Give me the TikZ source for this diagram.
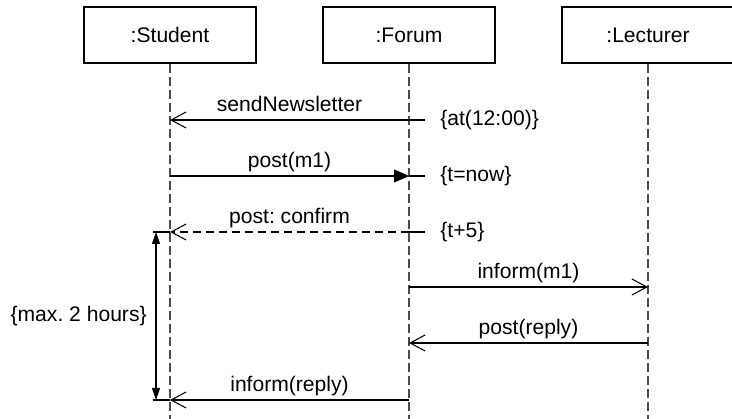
\documentclass[tikz,border=0pt]{standalone}
\usepackage{fontspec}
\setmainfont{Liberation Sans}
\usetikzlibrary{arrows.meta}
\frenchspacing

\tikzset{
  obj/.style={draw, line width=0.6pt, minimum width=3.44cm, minimum height=1.12cm, inner sep=0pt},
  lifeline/.style={draw=black!70, line width=0.6pt, dash pattern=on 0.18cm off 0.08cm},
  msg/.style={line width=0.6pt, -{Straight Barb[length=0.3cm,width=0.32cm]}},
  call/.style={line width=0.6pt, -{Triangle[length=0.3cm,width=0.26cm]}},
  reply/.style={msg, dash pattern=on 0.17cm off 0.09cm},
  msglabel/.style={midway, anchor=base, yshift=0.16cm, inner sep=0pt},
  note/.style={anchor=west, inner xsep=0.3cm, inner ysep=0pt}
}

\begin{document}
\begin{tikzpicture}[font=\fontsize{12}{14}\selectfont]
  \useasboundingbox (0,0) rectangle (14.64,8.38);
  % objects and lifelines
  \node[obj] (stud) at (3.40,7.68) {:Student};
  \node[obj] (forum) at (8.18,7.68) {:Forum};
  \node[obj] (lect) at (12.96,7.68) {:Lecturer};
  \coordinate (bottom) at (0,0);
  \draw[lifeline] (stud.south) -- (stud.south |- bottom);
  \draw[lifeline] (forum.south) -- (forum.south |- bottom);
  \draw[lifeline] (lect.south) -- (lect.south |- bottom);
  % message ends
  \coordinate (s1) at (3.40,5.98); \coordinate (f1) at (8.18,5.98);
  \coordinate (s2) at (3.40,4.86); \coordinate (f2) at (8.18,4.86);
  \coordinate (s3) at (3.40,3.74); \coordinate (f3) at (8.18,3.74);
  \coordinate (f4) at (8.18,2.64); \coordinate (l4) at (12.96,2.64);
  \coordinate (f5) at (8.18,1.52); \coordinate (l5) at (12.96,1.52);
  \coordinate (s6) at (3.40,0.38); \coordinate (f6) at (8.18,0.38);
  % messages
  \draw[msg] (f1) -- (s1) node[msglabel] (m1) {sendNewsletter};
  \draw[call] (s2) -- (f2) node[msglabel] (m2) {post(m1)};
  \draw[reply] (f3) -- (s3) node[msglabel] (m3) {post: confirm};
  \draw[msg] (f4) -- (l4) node[msglabel] (m4) {inform(m1)};
  \draw[msg] (l5) -- (f5) node[msglabel] (m5) {post(reply)};
  \draw[msg] (f6) -- (s6) node[msglabel] (m6) {inform(reply)};
  % time constraints
  \node[note] (at) at (8.50,5.98) {\{at(12:00)\}};
  \node[note] (now) at (8.50,4.86) {\{t=now\}};
  \node[note] (later) at (8.50,3.74) {\{t+5\}};
  \draw[line width=0.6pt] (f1) -- (at);
  \draw[line width=0.6pt] (f2) -- (now);
  \draw[line width=0.6pt] (f3) -- (later);
  % duration constraint
  \coordinate (dtop) at (3.12,3.74);
  \coordinate (dbot) at (3.12,0.38);
  \draw[line width=0.6pt] (s3) -- ++(-0.34,0);
  \draw[line width=0.6pt] (s6) -- ++(-0.34,0);
  \draw[line width=0.6pt, {Triangle[length=0.24cm,width=0.16cm]}-{Triangle[length=0.24cm,width=0.16cm]}]
    (dtop) -- (dbot) node[midway, left, xshift=-0.06cm] (dur) {\{max. 2 hours\}};
\end{tikzpicture}
\end{document}
